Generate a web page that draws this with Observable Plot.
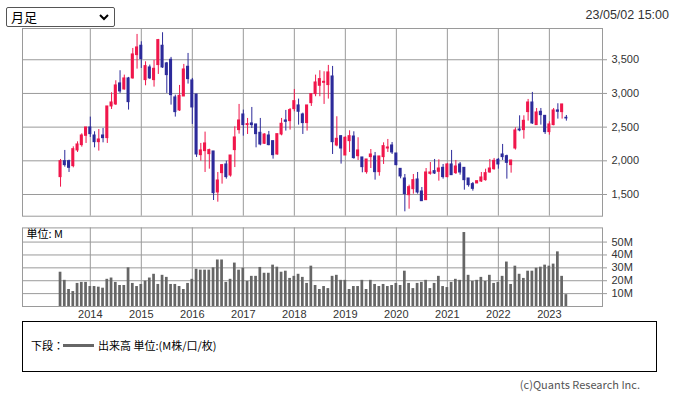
<!DOCTYPE html>
<html><head><meta charset="utf-8">
<script src="https://cdn.jsdelivr.net/npm/d3@7"></script>
<script src="https://cdn.jsdelivr.net/npm/@observablehq/plot@0.6"></script>
<style>
body{margin:0;background:#fff;font-family:"Noto Sans CJK JP","Noto Sans",sans-serif;}
#wrap{position:relative;width:674px;height:396px;overflow:hidden;background:#fff;}
#sel{position:absolute;left:6px;top:7px;width:109px;height:20px;border:1px solid #555;border-radius:2px;box-sizing:border-box;font-size:13px;line-height:18px;padding-left:4px;color:#000;}
#sel svg{position:absolute;right:5px;top:6px;}
#date{position:absolute;right:5px;top:7px;font-family:"Liberation Sans",Arial,sans-serif;font-size:12.5px;line-height:16px;color:#333;}
#price{position:absolute;left:0;top:20px;}
#vol{position:absolute;left:0;top:220px;}
#legend{position:absolute;left:22px;top:321px;width:635px;height:51px;border:1px solid #000;box-sizing:border-box;font-size:11px;color:#000;}
#legend .t1{position:absolute;left:8px;top:15px;line-height:16px;}
#legend .ln{position:absolute;left:40px;top:22px;width:31px;height:3px;background:#666;}
#legend .t2{position:absolute;left:75px;top:15px;line-height:16px;}
#copy{position:absolute;right:34px;top:377px;font-size:11px;line-height:14px;color:#555;}
</style></head>
<body>
<div id="wrap">
  <div id="sel">月足<svg width="10" height="7" viewBox="0 0 10 7"><path d="M1 1 L5 5 L9 1" fill="none" stroke="#000" stroke-width="2"/></svg></div>
  <div id="date">23/05/02 15:00</div>
  <div id="price"></div>
  <div id="vol"></div>
  <div id="legend"><span class="t1">下段：</span><span class="ln"></span><span class="t2">出来高 単位:(M株/口/枚)</span></div>
  <div id="copy">(c)Quants Research Inc.</div>
</div>
<script>
// Monthly candles, June 2013 .. May 2023
const firstMonth = "2013-06-01";
const opens  = [1758,1995,1995,1921,2154,2233,2371,2495,2376,2277,2376,2337,2807,2837,3149,3059,3223,3223,3569,3708,
                3198,3386,3198,3421,3708,3446,3500,2941,2748,2955,3396,3193,2985,2084,2144,2099,2139,1530,1817,1946,
                1782,2159,2456,2688,2530,2555,2540,2416,2253,2376,2292,2094,2391,2599,2589,2767,2822,2688,2560,2856,
                2990,3114,3158,3124,3252,2228,2366,2079,2292,2361,2069,2050,1832,2055,2065,1832,2055,2183,2228,2109,
                1881,1738,1490,1579,1723,1545,1416,1807,1847,1837,1896,1758,1946,1817,1946,1896,1738,1654,1664,1693,
                1713,1827,1876,2015,2094,2069,1936,2183,2465,2456,2723,2866,2530,2728,2668,2426,2530,2748,2723,2639];
const highs  = [2020,2154,2010,2208,2282,2401,2495,2649,2431,2465,2480,2807,3010,3188,3337,3272,3238,3668,3876,3767,
                3470,3421,3490,3802,3901,3460,3535,2975,3119,3431,3594,3223,2985,2258,2426,2173,2139,1827,1946,1995,
                2079,2505,2837,2753,2629,2792,2540,2629,2401,2436,2292,2396,2629,2748,2777,3059,2916,2708,2822,2995,
                3272,3337,3322,3416,3401,2654,2371,2357,2446,2431,2342,2050,2020,2168,2124,2065,2267,2317,2272,2109,
                1881,1797,1639,1797,1827,1604,1886,1975,2020,2015,1946,1961,2154,2005,1975,1896,1738,1678,1698,1827,
                1876,2020,2035,2035,2243,2084,2005,2490,2668,2668,2911,3015,2777,2777,2668,2579,2777,2847,2837,2673];
const lows   = [1609,1906,1827,1896,2124,2203,2258,2347,2193,2144,2267,2258,2762,2822,3000,3050,2753,3213,3361,3371,
                3114,3208,3094,3282,3371,3000,2827,2649,2733,2955,3139,2540,2050,1995,1827,1876,1411,1386,1654,1728,
                1758,1900,2396,2366,2391,2480,2193,2223,2243,2223,2025,2084,2371,2441,2456,2728,2530,2391,2441,2807,
                2951,2951,2837,2916,2094,2208,1951,2079,2124,2025,2005,1822,1802,1886,1713,1772,1946,2124,2094,1926,
                1733,1243,1282,1505,1505,1401,1416,1787,1797,1698,1728,1748,1787,1797,1787,1564,1609,1550,1664,1678,
                1698,1817,1861,1876,2005,1728,1817,2159,2431,2322,2589,2540,2530,2530,2391,2381,2520,2619,2619,2589];
const closes = [1995,1936,1896,2173,2243,2376,2495,2396,2277,2317,2337,2807,2866,3119,3030,3223,2871,3579,3683,3510,
                3406,3223,3366,3792,3386,3272,2975,2723,2965,3356,3213,2792,2094,2154,2258,2159,1520,1708,1936,1758,
                2079,2347,2599,2530,2545,2530,2396,2243,2391,2233,2084,2396,2550,2579,2753,2886,2728,2560,2822,2990,
                3163,3213,3173,3312,2277,2327,2183,2342,2366,2040,2154,1906,2020,2094,1832,2065,2218,2198,2124,1936,
                1768,1505,1609,1713,1530,1401,1827,1827,1812,1886,1758,1946,1787,1916,1827,1713,1639,1584,1698,1753,
                1817,1886,2000,1946,2055,1970,2005,2451,2451,2594,2866,2555,2718,2678,2426,2540,2748,2728,2837,2629];
// Volume, millions
const volumes = [26.6,20.3,13.2,11.6,17.9,18.7,18.7,15.5,15.5,15.0,14.2,21.1,22.1,18.7,16.3,16.3,30.0,17.9,15.5,17.1,
                 19.7,22.1,25.0,17.1,24.2,22.6,17.1,17.1,15.5,13.2,17.9,21.1,28.9,28.2,28.2,28.2,30.0,36.1,36.1,18.7,
                 21.1,33.7,28.2,29.7,19.5,23.4,23.4,30.3,25.8,25.8,32.1,30.5,26.6,27.4,21.8,23.4,25.0,22.6,17.9,31.3,
                 16.3,13.2,15.5,13.9,23.4,24.2,20.3,20.3,13.2,15.5,15.5,20.3,13.2,20.3,17.1,15.5,17.1,15.5,16.3,17.9,
                 16.3,27.4,17.9,13.9,17.9,18.7,20.3,13.9,17.9,23.4,15.5,14.7,18.7,21.1,20.3,57.4,24.2,19.5,20.3,22.6,
                 19.5,24.2,17.9,18.7,23.4,34.5,17.1,31.3,25.0,21.8,27.4,27.4,29.7,30.5,32.1,31.3,32.9,42.4,23.4,9.2];
const yearLabels = ["2014","2015","2016","2017","2018","2019","2020","2021","2022","2023"];
const priceTicks = [1500, 2000, 2500, 3000, 3500];
const volumeTicks = [10, 20, 30, 40, 50];

const UP = "#f0164b", DOWN = "#2c2a9a", GRID = "#9a9a9a";
const start = new Date(firstMonth + "T00:00:00Z");
const monthKeys = d3.utcMonth.range(start, d3.utcMonth.offset(start, opens.length)).map(d3.utcFormat("%Y-%m"));
const data = opens.map((o, i) => ({i, month: monthKeys[i], o, h: highs[i], l: lows[i], c: closes[i], v: volumes[i]}));
const yearIdx = yearLabels.map(y => monthKeys.indexOf(y + "-01"));
const yearOf = new Map(yearIdx.map((k, j) => [k, yearLabels[j]]));
const xDomain = [-8.95, 127.5];
const col = d => d.c >= d.o ? UP : DOWN;
const font = {fontFamily: '"Liberation Sans",Arial,sans-serif', fontSize: "11px", color: "#333", background: "transparent"};
const cjk = '"Noto Sans CJK JP","Noto Sans",sans-serif';

const price = Plot.plot({
  width: 674, height: 200,
  marginLeft: 22, marginRight: 72, marginTop: 8, marginBottom: 4.3,
  style: font,
  x: {type: "linear", domain: xDomain, axis: null, label: null},
  y: {domain: [1178, 3964], axis: null, label: null},
  marks: [
    Plot.ruleY(priceTicks, {stroke: GRID}),
    Plot.ruleX(yearIdx, {stroke: GRID}),
    Plot.axisY(priceTicks, {anchor: "right", label: null, tickSize: 4, tickPadding: 5, stroke: GRID, fill: "#333", tickFormat: d3.format(",")}),
    Plot.ruleX(data, {x: "i", y1: "l", y2: "h", stroke: col, strokeWidth: 1}),
    Plot.rect(data, {x1: d => d.i - 0.36, x2: d => d.i + 0.36, y1: "o", y2: "c", fill: col, insetTop: -0.5, insetBottom: -0.5}),
    Plot.frame({stroke: GRID})
  ]
});
document.getElementById("price").append(price);

const vol = Plot.plot({
  width: 674, height: 100,
  marginLeft: 22, marginRight: 72, marginTop: 7.4, marginBottom: 14,
  style: font,
  x: {type: "linear", domain: xDomain, axis: null, label: null},
  y: {domain: [0, 61], axis: null, label: null},
  marks: [
    Plot.ruleY(volumeTicks, {stroke: GRID}),
    Plot.ruleX(yearIdx, {stroke: GRID}),
    Plot.rect(data, {x1: d => d.i - 0.32, x2: d => d.i + 0.32, y1: 0, y2: "v", fill: "#666"}),
    Plot.axisY(volumeTicks, {anchor: "right", label: null, tickSize: 4, tickPadding: 5, stroke: GRID, fill: "#333", tickFormat: d => d + "M"}),
    Plot.axisX(yearIdx, {anchor: "bottom", label: null, tickSize: 0, tickPadding: 4, fill: "#333", tickFormat: d => yearOf.get(d)}),
    Plot.text(["単位: M"], {frameAnchor: "top-left", dx: 4, dy: 2, textAnchor: "start", lineAnchor: "top", fill: "#000", fontFamily: cjk}),
    Plot.frame({stroke: GRID})
  ]
});
document.getElementById("vol").append(vol);
</script>
</body></html>
